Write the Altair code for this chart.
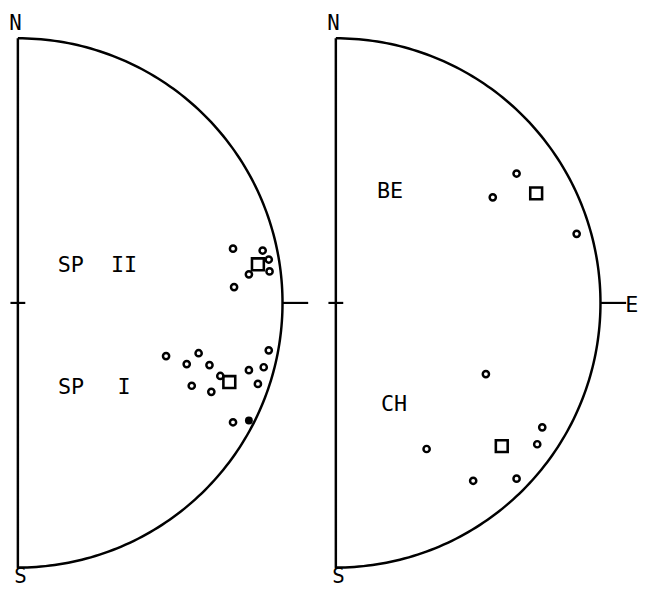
import altair as alt
import pandas as pd
import numpy as np

# ---------------- data (stereonet unit coordinates: x = east, y = north) ----------------
# Left net: SP II group
sp2_x = [0.813, 0.925, 0.948, 0.951, 0.873, 0.817]
sp2_y = [0.205, 0.198, 0.164, 0.119, 0.108, 0.060]
sp2_mean_x = [0.907]
sp2_mean_y = [0.146]
# Left net: SP I group
sp1_x = [0.560, 0.683, 0.638, 0.724, 0.765, 0.657, 0.731, 0.873, 0.929, 0.948, 0.907, 0.813]
sp1_y = [-0.201, -0.190, -0.231, -0.235, -0.276, -0.313, -0.336, -0.254, -0.243, -0.179, -0.306, -0.451]
sp1_filled_x = [0.873]
sp1_filled_y = [-0.444]
sp1_mean_x = [0.799]
sp1_mean_y = [-0.299]
# Right net: BE group
be_x = [0.683, 0.593, 0.910]
be_y = [0.489, 0.399, 0.261]
be_mean_x = [0.757]
be_mean_y = [0.414]
# Right net: CH group
ch_x = [0.567, 0.780, 0.761, 0.343, 0.519, 0.683]
ch_y = [-0.269, -0.470, -0.534, -0.552, -0.672, -0.664]
ch_mean_x = [0.627]
ch_mean_y = [-0.541]

# labels inside the nets (centred)
left_labels = ["SP", "II", "SP", "I"]
left_lab_x = [0.200, 0.401, 0.201, 0.401]
left_lab_y = [0.142, 0.142, -0.319, -0.319]
right_labels = ["E", "BE", "CH"]
right_lab_x = [1.118, 0.205, 0.220]
right_lab_y = [-0.007, 0.422, -0.384]
# compass labels N / S (baseline positioned)
ns_labels = ["N", "S"]
ns_x = [-0.009, 0.010]
ns_y = [1.030, -1.057]

# ---------------- geometry ----------------
PX = 268.0                 # pixels per unit radius
W, H = 638, 579
YMAX = 295.0 / PX
YMIN = YMAX - H / PX
XMIN = -10.0 / PX
RIGHT_OFFSET = 322.0 / PX  # right net drawn to the right of the left one

ang = np.linspace(90, -90, 181)
ox = list(np.cos(np.radians(ang))) + [0.0]
oy = list(np.sin(np.radians(ang))) + [1.0]
outline = pd.DataFrame({
    "x": ox + ox, "y": oy + oy,
    "o": list(range(len(ox))) * 2,
    "net": ["L"] * len(ox) + ["R"] * len(ox),
})

ticks = pd.DataFrame({
    "x": [-0.028, 1.0, -0.028, 1.0], "x2": [0.028, 1.097, 0.028, 1.097],
    "y": [0.0] * 4, "net": ["L", "L", "R", "R"],
})

circles = pd.DataFrame({
    "x": sp2_x + sp1_x + be_x + ch_x,
    "y": sp2_y + sp1_y + be_y + ch_y,
    "net": ["L"] * (len(sp2_x) + len(sp1_x)) + ["R"] * (len(be_x) + len(ch_x)),
})
filled = pd.DataFrame({"x": sp1_filled_x, "y": sp1_filled_y, "net": ["L"]})
means = pd.DataFrame({
    "x": sp2_mean_x + sp1_mean_x + be_mean_x + ch_mean_x,
    "y": sp2_mean_y + sp1_mean_y + be_mean_y + ch_mean_y,
    "net": ["L", "L", "R", "R"],
})
labels = pd.DataFrame({
    "x": left_lab_x + right_lab_x, "y": left_lab_y + right_lab_y,
    "t": left_labels + right_labels,
    "net": ["L"] * len(left_labels) + ["R"] * len(right_labels),
})
ns = pd.DataFrame({
    "x": ns_x + ns_x, "y": ns_y + ns_y, "t": ns_labels + ns_labels,
    "net": ["L", "L", "R", "R"],
})

xs = alt.Scale(domain=[XMIN, XMIN + W / PX], nice=False, zero=False)
ys = alt.Scale(domain=[YMIN, YMAX], nice=False, zero=False)
X = alt.X("xp:Q", scale=xs, axis=None)
Y = alt.Y("y:Q", scale=ys, axis=None)
off = f"datum.net == 'R' ? {RIGHT_OFFSET} : 0"


def base(df):
    return alt.Chart(df).transform_calculate(xp=f"datum.x + ({off})",
                                             xp2=f"datum.x2 + ({off})")


layers = [
    base(outline).mark_line(color="black", strokeWidth=2.5, strokeJoin="round")
    .encode(x=X, y=Y, order="o:Q", detail="net:N"),
    base(ticks).mark_rule(color="black", strokeWidth=2.2)
    .encode(x=X, x2="xp2:Q", y=Y),
    base(circles).mark_point(shape="circle", filled=False, size=40, strokeWidth=2.5,
                             color="black", opacity=1)
    .encode(x=X, y=Y),
    base(filled).mark_point(shape="circle", filled=True, size=64, color="black", opacity=1)
    .encode(x=X, y=Y),
    base(means).mark_point(shape="square", filled=False, size=144, strokeWidth=2.6,
                           color="black", opacity=1)
    .encode(x=X, y=Y),
    base(labels).mark_text(font="DejaVu Sans Mono", fontSize=22,
                           color="black", align="center", baseline="middle")
    .encode(x=X, y=Y, text="t:N"),
    base(ns).mark_text(font="DejaVu Sans Mono", fontSize=21,
                       color="black", align="center", baseline="alphabetic")
    .encode(x=X, y=Y, text="t:N"),
]

chart = alt.layer(*layers).properties(
    width=W, height=H, padding=0, background="white",
    autosize=alt.AutoSizeParams(type="none"),
).configure_view(strokeWidth=0)

chart.save("out.html", embed_options={"renderer": "svg", "actions": False})
